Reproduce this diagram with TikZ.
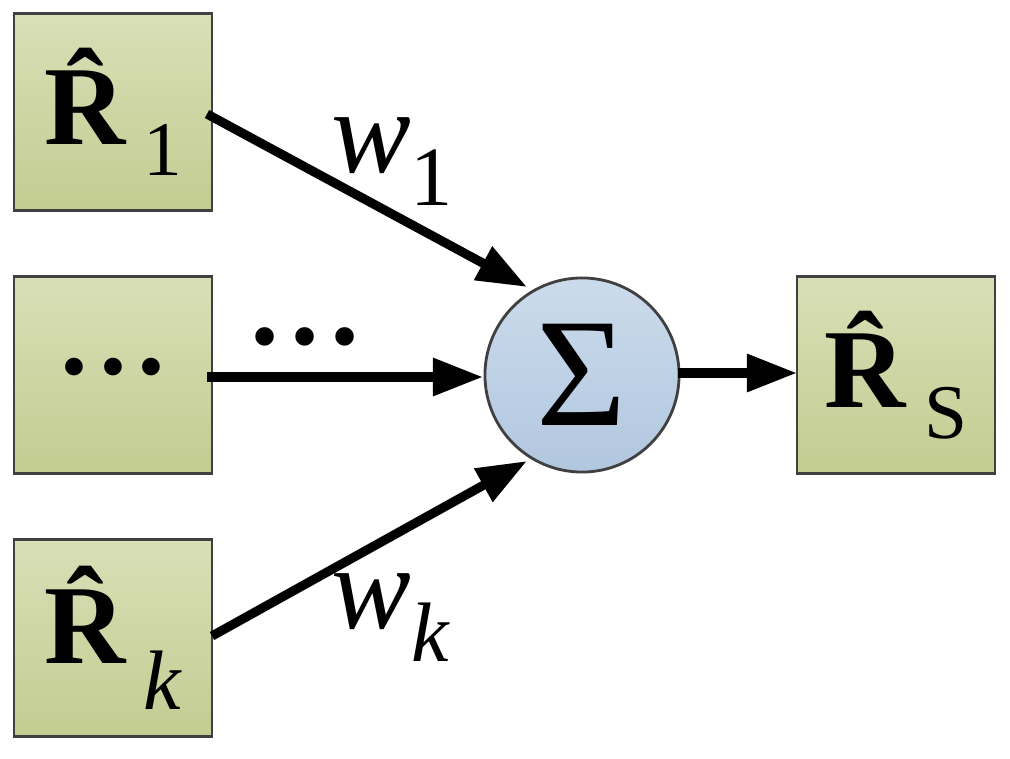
\documentclass[tikz,border=0pt]{standalone}
\usepackage{fontspec}
\setmainfont{Liberation Serif}
\usetikzlibrary{arrows.meta}
\definecolor{boxtop}{HTML}{D9DFB6}
\definecolor{boxbot}{HTML}{C3CC92}
\definecolor{cirtop}{HTML}{CCDBEC}
\definecolor{cirbot}{HTML}{B1C7DF}
\newcommand{\Rhat}{\textbf{\^R}}
\begin{document}
\begin{tikzpicture}[x=0.01cm,y=-0.01cm,
  box/.style={draw=black!75,line width=0.8pt,top color=boxtop,bottom color=boxbot,minimum width=1.98cm,minimum height=1.97cm,inner sep=0pt},
  conn/.style={line width=2.6pt,-{Triangle[length=0.5cm,width=0.36cm]}},
  big/.style={font=\fontsize{32}{36}\selectfont},
  lab/.style={font=\fontsize{34}{38}\selectfont\itshape}]
\useasboundingbox (0,0) rectangle (1010,758);
\node[box,big] (r1) at (113,112) {\Rhat\raisebox{-0.6ex}{\fontsize{22}{24}\selectfont 1}};
\node[box,font=\fontsize{21}{24}\selectfont] (r2) at (113,375) {•\,•\,•};
\node[box,big] (rk) at (113,638) {\Rhat\raisebox{-0.9ex}{\fontsize{24}{26}\selectfont\itshape k}};
\node[box,big] (rs) at (896,375) {\Rhat\raisebox{-0.6ex}{\fontsize{22}{24}\selectfont S}};
\node[circle,draw=black!75,line width=0.8pt,top color=cirtop,bottom color=cirbot,minimum size=1.94cm,inner sep=0pt,font=\fontsize{44}{48}\selectfont] (s) at (582,375) {Σ};
\coordinate (a1) at (207,114);
\coordinate (a2) at (207,377);
\coordinate (a3) at (212,636);
\coordinate (b1) at (527,287);
\coordinate (b2) at (483,377);
\coordinate (b3) at (527,461);
\coordinate (c1) at (678,373);
\coordinate (c2) at (797,373);
\draw[conn] (a1) -- (b1);
\draw[conn] (a2) -- (b2);
\draw[conn] (a3) -- (b3);
\draw[conn] (c1) -- (c2);
\node[lab] (w1) at (392,162) {w\raisebox{-0.6ex}{\upshape\fontsize{24}{26}\selectfont 1}};
\node[font=\fontsize{22}{24}\selectfont] (dots) at (305,345) {•\,•\,•};
\node[lab] (wk) at (390,618) {w\raisebox{-0.6ex}{\fontsize{24}{26}\selectfont k}};
\end{tikzpicture}
\end{document}
